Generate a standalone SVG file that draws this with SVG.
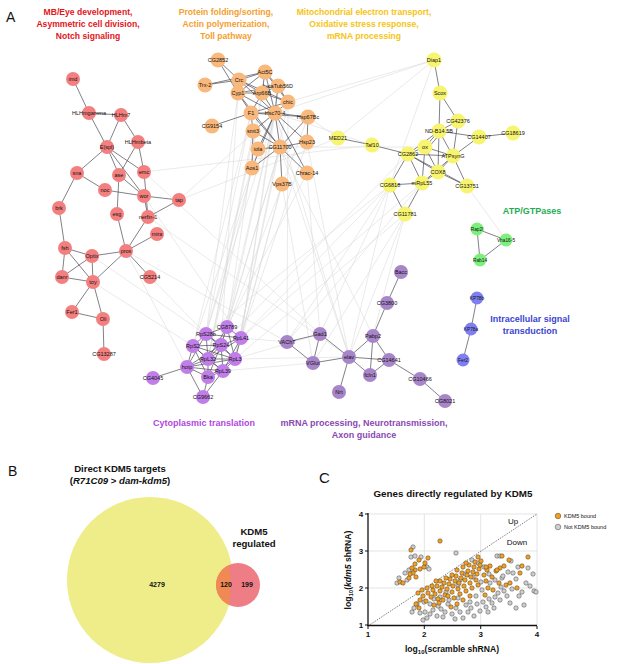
<svg xmlns="http://www.w3.org/2000/svg" width="617" height="664" viewBox="0 0 617 664">
<style>
text{font-family:"Liberation Sans",Arial,sans-serif;fill:#111}
.nl{font-size:5.5px;text-anchor:middle;fill:#111}
.r circle{fill:#f47f7f}
.o circle{fill:#f9b87c}
.y circle{fill:#f7f46f}
.g circle{fill:#7cef7c}
.b circle{fill:#7f7ff2}
.pl circle{fill:#c17ee9}
.pr circle{fill:#a885c9}
.e line{stroke:#4a4a55;stroke-width:0.7}
.bg line{stroke:#d9d9d9;stroke-width:0.55}
.ttl{font-weight:bold;font-size:8.6px;text-anchor:middle}
.cl{font-weight:bold;font-size:9px;text-anchor:middle}
.pan{font-size:14px}
.po{fill:#f2a126;stroke:#4a3a20;stroke-width:0.5}
.pg{fill:#cfcfcf;stroke:#444;stroke-width:0.5}
.tk{font-weight:bold;font-size:8px;text-anchor:middle}
.grid line{stroke:#dddddd;stroke-width:0.8}
</style>

<text class="pan" x="6" y="22">A</text>
<g id="titles">
<text class="ttl" style="fill:#e3141b" x="88" y="15">MB/Eye development,</text>
<text class="ttl" style="fill:#e3141b" x="88" y="27">Asymmetric cell division,</text>
<text class="ttl" style="fill:#e3141b" x="88" y="39">Notch signaling</text>
<text class="ttl" style="fill:#f5a02e" x="226" y="15">Protein folding/sorting,</text>
<text class="ttl" style="fill:#f5a02e" x="226" y="27">Actin polymerization,</text>
<text class="ttl" style="fill:#f5a02e" x="226" y="39">Toll pathway</text>
<text class="ttl" style="fill:#f6c416" x="364" y="15">Mitochondrial electron transport,</text>
<text class="ttl" style="fill:#f6c416" x="364" y="27">Oxidative stress response,</text>
<text class="ttl" style="fill:#f6c416" x="364" y="39">mRNA processing</text>
<text class="cl" style="fill:#1fae55" x="532" y="214">ATP/GTPases</text>
<text class="cl" style="fill:#3b44d0" x="530" y="322">Intracellular signal</text>
<text class="cl" style="fill:#3b44d0" x="530" y="334">transduction</text>
<text class="cl" style="fill:#b048e0" x="204" y="426">Cytoplasmic translation</text>
<text class="cl" style="fill:#8a48b2" x="364" y="426">mRNA processing, Neurotransmission,</text>
<text class="cl" style="fill:#8a48b2" x="364" y="438">Axon guidance</text>
</g>

<g id="connectors">
<g class="bg">
<line x1="275" y1="113" x2="206" y2="334"/><line x1="275" y1="113" x2="227" y2="327"/><line x1="275" y1="113" x2="241" y2="338"/><line x1="275" y1="113" x2="221" y2="345"/>
<line x1="251" y1="113" x2="193" y2="346"/><line x1="251" y1="113" x2="206" y2="334"/><line x1="253" y1="131" x2="208" y2="359"/><line x1="280" y1="147" x2="235" y2="359"/>
<line x1="280" y1="147" x2="221" y2="345"/><line x1="280" y1="147" x2="227" y2="327"/><line x1="258" y1="149" x2="206" y2="334"/><line x1="252" y1="168" x2="193" y2="346"/>
<line x1="252" y1="168" x2="208" y2="359"/><line x1="282" y1="184" x2="241" y2="338"/><line x1="282" y1="184" x2="235" y2="359"/><line x1="238" y1="93" x2="206" y2="334"/>
<line x1="239" y1="80" x2="221" y2="345"/><line x1="307" y1="142" x2="241" y2="338"/><line x1="307" y1="173" x2="227" y2="327"/><line x1="262" y1="93" x2="208" y2="359"/>
<line x1="288" y1="102" x2="235" y2="359"/><line x1="308" y1="117" x2="221" y2="345"/><line x1="265" y1="72" x2="227" y2="327"/><line x1="278" y1="86" x2="241" y2="338"/>
<line x1="275" y1="113" x2="349" y2="357"/><line x1="280" y1="147" x2="373" y2="336"/><line x1="280" y1="147" x2="349" y2="357"/><line x1="307" y1="173" x2="320" y2="334"/>
<line x1="307" y1="142" x2="349" y2="357"/><line x1="282" y1="184" x2="313" y2="363"/><line x1="288" y1="102" x2="287" y2="342"/>
<line x1="390" y1="185" x2="349" y2="357"/><line x1="390" y1="185" x2="320" y2="334"/><line x1="405" y1="214" x2="349" y2="357"/><line x1="405" y1="214" x2="313" y2="363"/>
<line x1="405" y1="214" x2="373" y2="336"/><line x1="422" y1="183" x2="287" y2="342"/><line x1="390" y1="185" x2="241" y2="338"/><line x1="405" y1="214" x2="235" y2="359"/>
<line x1="408" y1="154" x2="221" y2="345"/><line x1="390" y1="185" x2="206" y2="334"/><line x1="422" y1="183" x2="241" y2="338"/><line x1="390" y1="185" x2="287" y2="342"/>
<line x1="434" y1="60" x2="275" y2="113"/><line x1="434" y1="60" x2="288" y2="102"/><line x1="434" y1="60" x2="338" y2="138"/><line x1="434" y1="60" x2="390" y2="185"/>
<line x1="372" y1="145" x2="275" y2="113"/><line x1="338" y1="138" x2="308" y2="117"/><line x1="425" y1="147" x2="280" y2="147"/>
<line x1="144" y1="172" x2="372" y2="145"/><line x1="179" y1="200" x2="275" y2="113"/><line x1="144" y1="196" x2="241" y2="338"/><line x1="126" y1="251" x2="187" y2="367"/>
<line x1="93" y1="282" x2="193" y2="346"/><line x1="150" y1="277" x2="206" y2="334"/><line x1="148" y1="217" x2="349" y2="357"/><line x1="179" y1="200" x2="338" y2="138"/>
<line x1="126" y1="251" x2="287" y2="342"/><line x1="144" y1="172" x2="320" y2="334"/><line x1="92" y1="256" x2="221" y2="345"/>
<line x1="467" y1="186" x2="506" y2="240"/>
<line x1="287" y1="342" x2="241" y2="338"/><line x1="320" y1="334" x2="235" y2="359"/><line x1="313" y1="363" x2="223" y2="371"/><line x1="349" y1="357" x2="235" y2="359"/>
</g>
<g class="e">
<line x1="73" y1="79" x2="89" y2="113"/><line x1="89" y1="113" x2="121" y2="115"/><line x1="89" y1="113" x2="107" y2="147"/><line x1="121" y1="115" x2="107" y2="147"/>
<line x1="121" y1="115" x2="138" y2="142"/><line x1="107" y1="147" x2="77" y2="173"/><line x1="107" y1="147" x2="119" y2="175"/><line x1="107" y1="147" x2="144" y2="172"/>
<line x1="107" y1="147" x2="144" y2="196"/><line x1="138" y1="142" x2="119" y2="175"/><line x1="138" y1="142" x2="144" y2="172"/><line x1="77" y1="173" x2="105" y2="190"/>
<line x1="77" y1="173" x2="59" y2="208"/><line x1="119" y1="175" x2="144" y2="196"/><line x1="119" y1="175" x2="117" y2="214"/><line x1="144" y1="172" x2="148" y2="217"/>
<line x1="105" y1="190" x2="144" y2="196"/><line x1="144" y1="196" x2="179" y2="200"/><line x1="144" y1="196" x2="148" y2="217"/><line x1="179" y1="200" x2="148" y2="217"/>
<line x1="59" y1="208" x2="65" y2="248"/><line x1="117" y1="214" x2="126" y2="251"/><line x1="148" y1="217" x2="126" y2="251"/><line x1="157" y1="234" x2="126" y2="251"/>
<line x1="65" y1="248" x2="92" y2="256"/><line x1="65" y1="248" x2="62" y2="277"/><line x1="65" y1="248" x2="93" y2="282"/><line x1="92" y1="256" x2="62" y2="277"/>
<line x1="92" y1="256" x2="93" y2="282"/><line x1="92" y1="256" x2="126" y2="251"/><line x1="62" y1="277" x2="93" y2="282"/><line x1="93" y1="282" x2="126" y2="251"/>
<line x1="126" y1="251" x2="150" y2="277"/><line x1="93" y1="282" x2="72" y2="312"/><line x1="93" y1="282" x2="103" y2="319"/><line x1="72" y1="312" x2="103" y2="319"/>
<line x1="103" y1="319" x2="104" y2="354"/>
<line x1="218" y1="60" x2="239" y2="80"/><line x1="218" y1="60" x2="238" y2="93"/><line x1="205" y1="85" x2="239" y2="80"/><line x1="205" y1="85" x2="265" y2="72"/>
<line x1="239" y1="80" x2="265" y2="72"/><line x1="239" y1="80" x2="238" y2="93"/><line x1="239" y1="80" x2="262" y2="93"/><line x1="239" y1="80" x2="275" y2="113"/>
<line x1="239" y1="80" x2="288" y2="102"/><line x1="265" y1="72" x2="278" y2="86"/><line x1="265" y1="72" x2="262" y2="93"/><line x1="265" y1="72" x2="238" y2="93"/>
<line x1="265" y1="72" x2="288" y2="102"/><line x1="265" y1="72" x2="275" y2="113"/><line x1="238" y1="93" x2="262" y2="93"/><line x1="238" y1="93" x2="278" y2="86"/>
<line x1="238" y1="93" x2="251" y2="113"/><line x1="238" y1="93" x2="275" y2="113"/><line x1="238" y1="93" x2="280" y2="147"/><line x1="262" y1="93" x2="278" y2="86"/>
<line x1="262" y1="93" x2="288" y2="102"/><line x1="262" y1="93" x2="251" y2="113"/><line x1="262" y1="93" x2="275" y2="113"/><line x1="278" y1="86" x2="288" y2="102"/>
<line x1="278" y1="86" x2="275" y2="113"/><line x1="251" y1="113" x2="275" y2="113"/><line x1="251" y1="113" x2="212" y2="126"/><line x1="251" y1="113" x2="253" y2="131"/>
<line x1="251" y1="113" x2="280" y2="147"/><line x1="251" y1="113" x2="308" y2="117"/><line x1="275" y1="113" x2="308" y2="117"/><line x1="275" y1="113" x2="307" y2="142"/>
<line x1="275" y1="113" x2="280" y2="147"/><line x1="275" y1="113" x2="253" y2="131"/><line x1="275" y1="113" x2="258" y2="149"/><line x1="275" y1="113" x2="252" y2="168"/>
<line x1="275" y1="113" x2="307" y2="173"/><line x1="308" y1="117" x2="307" y2="142"/><line x1="308" y1="117" x2="280" y2="147"/><line x1="253" y1="131" x2="252" y2="168"/>
<line x1="253" y1="131" x2="280" y2="147"/><line x1="280" y1="147" x2="258" y2="149"/><line x1="280" y1="147" x2="307" y2="142"/><line x1="280" y1="147" x2="252" y2="168"/>
<line x1="280" y1="147" x2="307" y2="173"/><line x1="280" y1="147" x2="282" y2="184"/><line x1="288" y1="102" x2="275" y2="113"/><line x1="288" y1="102" x2="251" y2="113"/>
<line x1="434" y1="60" x2="440" y2="93"/><line x1="440" y1="93" x2="439" y2="131"/><line x1="440" y1="93" x2="458" y2="121"/><line x1="458" y1="121" x2="439" y2="131"/>
<line x1="458" y1="121" x2="453" y2="156"/><line x1="439" y1="131" x2="479" y2="137"/><line x1="439" y1="131" x2="425" y2="147"/><line x1="441" y1="133" x2="427" y2="149"/>
<line x1="439" y1="131" x2="453" y2="156"/><line x1="439" y1="131" x2="408" y2="154"/><line x1="439" y1="131" x2="438" y2="172"/><line x1="479" y1="137" x2="513" y2="133"/>
<line x1="479" y1="137" x2="453" y2="156"/><line x1="338" y1="138" x2="372" y2="145"/><line x1="372" y1="145" x2="408" y2="154"/><line x1="425" y1="147" x2="408" y2="154"/>
<line x1="425" y1="147" x2="453" y2="156"/><line x1="425" y1="147" x2="438" y2="172"/><line x1="425" y1="147" x2="422" y2="183"/><line x1="408" y1="154" x2="453" y2="156"/>
<line x1="408" y1="154" x2="438" y2="172"/><line x1="408" y1="154" x2="390" y2="185"/><line x1="408" y1="154" x2="422" y2="183"/><line x1="408" y1="154" x2="467" y2="186"/>
<line x1="453" y1="156" x2="438" y2="172"/><line x1="453" y1="156" x2="467" y2="186"/><line x1="453" y1="156" x2="422" y2="183"/><line x1="438" y1="172" x2="422" y2="183"/>
<line x1="438" y1="172" x2="467" y2="186"/><line x1="390" y1="185" x2="422" y2="183"/><line x1="390" y1="185" x2="405" y2="214"/><line x1="422" y1="183" x2="405" y2="214"/>
<line x1="477" y1="229" x2="506" y2="240"/><line x1="477" y1="229" x2="480" y2="260"/><line x1="480" y1="260" x2="506" y2="240"/>
<line x1="477" y1="298" x2="471" y2="329"/><line x1="471" y1="329" x2="463" y2="360"/>
<line x1="401" y1="272" x2="387" y2="303"/><line x1="387" y1="303" x2="373" y2="336"/><line x1="373" y1="336" x2="349" y2="357"/><line x1="373" y1="336" x2="370" y2="375"/>
<line x1="373" y1="336" x2="389" y2="360"/><line x1="320" y1="334" x2="287" y2="342"/><line x1="320" y1="334" x2="313" y2="363"/><line x1="320" y1="334" x2="349" y2="357"/>
<line x1="287" y1="342" x2="313" y2="363"/><line x1="313" y1="363" x2="349" y2="357"/><line x1="349" y1="357" x2="389" y2="360"/><line x1="349" y1="357" x2="370" y2="375"/>
<line x1="349" y1="357" x2="339" y2="392"/><line x1="370" y1="375" x2="389" y2="360"/><line x1="389" y1="360" x2="420" y2="379"/><line x1="420" y1="379" x2="445" y2="401"/>
<line x1="227" y1="327" x2="206" y2="334"/><line x1="227" y1="327" x2="241" y2="338"/><line x1="227" y1="327" x2="221" y2="345"/><line x1="227" y1="327" x2="208" y2="359"/>
<line x1="227" y1="327" x2="235" y2="359"/><line x1="206" y1="334" x2="241" y2="338"/><line x1="206" y1="334" x2="193" y2="346"/><line x1="206" y1="334" x2="221" y2="345"/>
<line x1="206" y1="334" x2="208" y2="359"/><line x1="206" y1="334" x2="235" y2="359"/><line x1="206" y1="334" x2="187" y2="367"/><line x1="241" y1="338" x2="221" y2="345"/>
<line x1="241" y1="338" x2="208" y2="359"/><line x1="241" y1="338" x2="235" y2="359"/><line x1="241" y1="338" x2="223" y2="371"/><line x1="193" y1="346" x2="221" y2="345"/>
<line x1="193" y1="346" x2="208" y2="359"/><line x1="193" y1="346" x2="235" y2="359"/><line x1="193" y1="346" x2="187" y2="367"/><line x1="193" y1="346" x2="223" y2="371"/>
<line x1="193" y1="346" x2="208" y2="377"/><line x1="221" y1="345" x2="208" y2="359"/><line x1="221" y1="345" x2="235" y2="359"/><line x1="221" y1="345" x2="187" y2="367"/>
<line x1="221" y1="345" x2="223" y2="371"/><line x1="221" y1="345" x2="208" y2="377"/><line x1="208" y1="359" x2="235" y2="359"/><line x1="208" y1="359" x2="187" y2="367"/>
<line x1="208" y1="359" x2="223" y2="371"/><line x1="208" y1="359" x2="208" y2="377"/><line x1="235" y1="359" x2="187" y2="367"/><line x1="235" y1="359" x2="223" y2="371"/>
<line x1="235" y1="359" x2="208" y2="377"/><line x1="187" y1="367" x2="223" y2="371"/><line x1="187" y1="367" x2="208" y2="377"/><line x1="223" y1="371" x2="208" y2="377"/>
<line x1="187" y1="367" x2="153" y2="378"/><line x1="187" y1="367" x2="203" y2="397"/><line x1="208" y1="377" x2="203" y2="397"/><line x1="223" y1="371" x2="203" y2="397"/>
</g>
</g>

<g id="nodes-red" class="r">
<g id="n-imd"><circle cx="73" cy="79" r="7"/><text class="nl" x="73" y="81">imd</text></g>
<g id="n-HLHmgamma"><circle cx="89" cy="113" r="7"/><text class="nl" x="89" y="115">HLHmgamma</text></g>
<g id="n-HLHm7"><circle cx="121" cy="115" r="7"/><text class="nl" x="121" y="117">HLHm7</text></g>
<g id="n-HLHmbeta"><circle cx="138" cy="142" r="7"/><text class="nl" x="138" y="144">HLHmbeta</text></g>
<g id="n-Espl"><circle cx="107" cy="147" r="7"/><text class="nl" x="107" y="149">E(spl)</text></g>
<g id="n-sna"><circle cx="77" cy="173" r="7"/><text class="nl" x="77" y="175">sna</text></g>
<g id="n-ase"><circle cx="119" cy="175" r="7"/><text class="nl" x="119" y="177">ase</text></g>
<g id="n-emc"><circle cx="144" cy="172" r="7"/><text class="nl" x="144" y="174">emc</text></g>
<g id="n-noc"><circle cx="105" cy="190" r="7"/><text class="nl" x="105" y="192">noc</text></g>
<g id="n-wor"><circle cx="144" cy="196" r="7"/><text class="nl" x="144" y="198">wor</text></g>
<g id="n-tap"><circle cx="179" cy="200" r="7"/><text class="nl" x="179" y="202">tap</text></g>
<g id="n-brk"><circle cx="59" cy="208" r="7"/><text class="nl" x="59" y="210">brk</text></g>
<g id="n-esg"><circle cx="117" cy="214" r="7"/><text class="nl" x="117" y="216">esg</text></g>
<g id="n-nerfin-1"><circle cx="148" cy="217" r="7"/><text class="nl" x="148" y="219">nerfin-1</text></g>
<g id="n-mira"><circle cx="157" cy="234" r="7"/><text class="nl" x="157" y="236">mira</text></g>
<g id="n-pros"><circle cx="126" cy="251" r="7"/><text class="nl" x="126" y="253">pros</text></g>
<g id="n-fsh"><circle cx="65" cy="248" r="7"/><text class="nl" x="65" y="250">fsh</text></g>
<g id="n-Optix"><circle cx="92" cy="256" r="7"/><text class="nl" x="92" y="258">Optix</text></g>
<g id="n-danr"><circle cx="62" cy="277" r="7"/><text class="nl" x="62" y="279">danr</text></g>
<g id="n-toy"><circle cx="93" cy="282" r="7"/><text class="nl" x="93" y="284">toy</text></g>
<g id="n-CG5214"><circle cx="150" cy="277" r="7"/><text class="nl" x="150" y="279">CG5214</text></g>
<g id="n-Fer1"><circle cx="72" cy="312" r="7"/><text class="nl" x="72" y="314">Fer1</text></g>
<g id="n-Oli"><circle cx="103" cy="319" r="7"/><text class="nl" x="103" y="321">Oli</text></g>
<g id="n-CG13287"><circle cx="104" cy="354" r="7"/><text class="nl" x="104" y="356">CG13287</text></g>
</g>

<g id="nodes-orange" class="o">
<g id="n-CG2852"><circle cx="218" cy="60" r="7.5"/><text class="nl" x="218" y="62">CG2852</text></g>
<g id="n-Act5C"><circle cx="265" cy="72" r="7.5"/><text class="nl" x="265" y="74">Act5C</text></g>
<g id="n-Crc"><circle cx="239" cy="80" r="7.5"/><text class="nl" x="239" y="82">Crc</text></g>
<g id="n-Trx-2"><circle cx="205" cy="85" r="7.5"/><text class="nl" x="205" y="87">Trx-2</text></g>
<g id="n-betaTub56D"><circle cx="278" cy="86" r="7.5"/><text class="nl" x="278" y="88">betaTub56D</text></g>
<g id="n-Cyp1"><circle cx="238" cy="93" r="7.5"/><text class="nl" x="238" y="95">Cyp1</text></g>
<g id="n-Arp66B"><circle cx="262" cy="93" r="7.5"/><text class="nl" x="262" y="95">Arp66B</text></g>
<g id="n-chic"><circle cx="288" cy="102" r="7.5"/><text class="nl" x="288" y="104">chic</text></g>
<g id="n-F1"><circle cx="251" cy="113" r="7.5"/><text class="nl" x="251" y="115">F1</text></g>
<g id="n-Hsc70-4"><circle cx="275" cy="113" r="7.5"/><text class="nl" x="275" y="115">Hsc70-4</text></g>
<g id="n-Hsp67Bc"><circle cx="308" cy="117" r="7.5"/><text class="nl" x="308" y="119">Hsp67Bc</text></g>
<g id="n-CG9154"><circle cx="212" cy="126" r="7.5"/><text class="nl" x="212" y="128">CG9154</text></g>
<g id="n-smt3"><circle cx="253" cy="131" r="7.5"/><text class="nl" x="253" y="133">smt3</text></g>
<g id="n-Hsp23"><circle cx="307" cy="142" r="7.5"/><text class="nl" x="307" y="144">Hsp23</text></g>
<g id="n-iola"><circle cx="258" cy="149" r="7.5"/><text class="nl" x="258" y="151">iola</text></g>
<g id="n-CG11700"><circle cx="280" cy="147" r="7.5"/><text class="nl" x="280" y="149">CG11700</text></g>
<g id="n-Aos1"><circle cx="252" cy="168" r="7.5"/><text class="nl" x="252" y="170">Aos1</text></g>
<g id="n-Chrac-14"><circle cx="307" cy="173" r="7.5"/><text class="nl" x="307" y="175">Chrac-14</text></g>
<g id="n-Vps37B"><circle cx="282" cy="184" r="7.5"/><text class="nl" x="282" y="186">Vps37B</text></g>
</g>

<g id="nodes-yellow" class="y">
<g id="n-Diap1"><circle cx="434" cy="60" r="7.5"/><text class="nl" x="434" y="62">Diap1</text></g>
<g id="n-Scox"><circle cx="440" cy="93" r="7.5"/><text class="nl" x="440" y="95">Scox</text></g>
<g id="n-CG42376"><circle cx="458" cy="121" r="7.5"/><text class="nl" x="458" y="123">CG42376</text></g>
<g id="n-ND-B14.5B"><circle cx="439" cy="131" r="7.5"/><text class="nl" x="439" y="133">ND-B14.5B</text></g>
<g id="n-CG14407"><circle cx="479" cy="137" r="7.5"/><text class="nl" x="479" y="139">CG14407</text></g>
<g id="n-CG18619"><circle cx="513" cy="133" r="7.5"/><text class="nl" x="513" y="135">CG18619</text></g>
<g id="n-MED21"><circle cx="338" cy="138" r="7.5"/><text class="nl" x="338" y="140">MED21</text></g>
<g id="n-Taf10"><circle cx="372" cy="145" r="7.5"/><text class="nl" x="372" y="147">Taf10</text></g>
<g id="n-ox"><circle cx="425" cy="147" r="7.5"/><text class="nl" x="425" y="149">ox</text></g>
<g id="n-CG2862"><circle cx="408" cy="154" r="7.5"/><text class="nl" x="408" y="156">CG2862</text></g>
<g id="n-ATPsynG"><circle cx="453" cy="156" r="7.5"/><text class="nl" x="453" y="158">ATPsynG</text></g>
<g id="n-COX8"><circle cx="438" cy="172" r="7.5"/><text class="nl" x="438" y="174">COX8</text></g>
<g id="n-CG6818"><circle cx="390" cy="185" r="7.5"/><text class="nl" x="390" y="187">CG6818</text></g>
<g id="n-mRpL55"><circle cx="422" cy="183" r="7.5"/><text class="nl" x="422" y="185">mRpL55</text></g>
<g id="n-CG13751"><circle cx="467" cy="186" r="7.5"/><text class="nl" x="467" y="188">CG13751</text></g>
<g id="n-CG11781"><circle cx="405" cy="214" r="7.5"/><text class="nl" x="405" y="216">CG11781</text></g>
</g>

<g id="nodes-green" class="g">
<g id="n-Rap2l"><circle cx="477" cy="229" r="6.5"/><text class="nl" x="477" y="231" style="font-size:4.8px">Rap2l</text></g>
<g id="n-Vha16-5"><circle cx="506" cy="240" r="6.5"/><text class="nl" x="506" y="242" style="font-size:4.8px">Vha16-5</text></g>
<g id="n-Rab14"><circle cx="480" cy="260" r="6.5"/><text class="nl" x="480" y="262" style="font-size:4.8px">Rab14</text></g>
</g>

<g id="nodes-blue" class="b">
<g id="n-KP78b"><circle cx="477" cy="298" r="6.5"/><text class="nl" x="477" y="300" style="font-size:4.8px">KP78b</text></g>
<g id="n-KP78a"><circle cx="471" cy="329" r="6.5"/><text class="nl" x="471" y="331" style="font-size:4.8px">KP78a</text></g>
<g id="n-Fer2"><circle cx="463" cy="360" r="6.5"/><text class="nl" x="463" y="362" style="font-size:4.8px">Fer2</text></g>
</g>

<g id="nodes-purple-right" class="pr">
<g id="n-Bacc"><circle cx="401" cy="272" r="7"/><text class="nl" x="401" y="274">Bacc</text></g>
<g id="n-CG3800"><circle cx="387" cy="303" r="7"/><text class="nl" x="387" y="305">CG3800</text></g>
<g id="n-Pabp2"><circle cx="373" cy="336" r="7"/><text class="nl" x="373" y="338">Pabp2</text></g>
<g id="n-Gad1"><circle cx="320" cy="334" r="7"/><text class="nl" x="320" y="336">Gad1</text></g>
<g id="n-VAChT"><circle cx="287" cy="342" r="7"/><text class="nl" x="287" y="344">VAChT</text></g>
<g id="n-VGlut"><circle cx="313" cy="363" r="7"/><text class="nl" x="313" y="365">VGlut</text></g>
<g id="n-elav"><circle cx="349" cy="357" r="7"/><text class="nl" x="349" y="359">elav</text></g>
<g id="n-CG14641"><circle cx="389" cy="360" r="7"/><text class="nl" x="389" y="362">CG14641</text></g>
<g id="n-fcln1"><circle cx="370" cy="375" r="7"/><text class="nl" x="370" y="377">fcln1</text></g>
<g id="n-Nrt"><circle cx="339" cy="392" r="7"/><text class="nl" x="339" y="394">Nrt</text></g>
<g id="n-CG10466"><circle cx="420" cy="379" r="7"/><text class="nl" x="420" y="381">CG10466</text></g>
<g id="n-CG8021"><circle cx="445" cy="401" r="7"/><text class="nl" x="445" y="403">CG8021</text></g>
</g>

<g id="nodes-purple-left" class="pl">
<g id="n-CG8789"><circle cx="227" cy="327" r="7"/><text class="nl" x="227" y="329">CG8789</text></g>
<g id="n-RpS28b"><circle cx="206" cy="334" r="7"/><text class="nl" x="206" y="336">RpS28b</text></g>
<g id="n-RpL41"><circle cx="241" cy="338" r="7"/><text class="nl" x="241" y="340">RpL41</text></g>
<g id="n-RpS2"><circle cx="193" cy="346" r="7"/><text class="nl" x="193" y="348">RpS2</text></g>
<g id="n-RpS24"><circle cx="221" cy="345" r="7"/><text class="nl" x="221" y="347">RpS24</text></g>
<g id="n-RpL32"><circle cx="208" cy="359" r="7"/><text class="nl" x="208" y="361">RpL32</text></g>
<g id="n-RpL3"><circle cx="235" cy="359" r="7"/><text class="nl" x="235" y="361">RpL3</text></g>
<g id="n-hoip"><circle cx="187" cy="367" r="7"/><text class="nl" x="187" y="369">hoip</text></g>
<g id="n-RpL39"><circle cx="223" cy="371" r="7"/><text class="nl" x="223" y="373">RpL39</text></g>
<g id="n-Bka"><circle cx="208" cy="377" r="7"/><text class="nl" x="208" y="379">Bka</text></g>
<g id="n-CG4045"><circle cx="153" cy="378" r="7"/><text class="nl" x="153" y="380">CG4045</text></g>
<g id="n-CG9662"><circle cx="203" cy="397" r="7"/><text class="nl" x="203" y="399">CG9662</text></g>
</g>

<g id="venn">
<text class="pan" x="8" y="476">B</text>
<text x="120" y="472" style="font-weight:bold;font-size:9.6px;text-anchor:middle">Direct KDM5 targets</text>
<text x="120" y="484" style="font-weight:bold;font-size:9.6px;text-anchor:middle">(<tspan font-style="italic">R71C09</tspan> &gt; <tspan font-style="italic">dam-kdm5</tspan>)</text>
<text x="254" y="535" style="font-weight:bold;font-size:9.6px;text-anchor:middle">KDM5</text>
<text x="254" y="547" style="font-weight:bold;font-size:9.6px;text-anchor:middle">regulated</text>
<circle cx="150" cy="580" r="83" fill="#efed8a"/>
<circle cx="238" cy="585" r="22" fill="#ef7d86"/>
<path d="M 228.3 565.3 A 22 22 0 0 0 228.3 604.7 A 83 83 0 0 0 228.3 565.3 Z" fill="#f08a55"/>
<text x="157" y="587" style="font-weight:bold;font-size:7px;text-anchor:middle">4279</text>
<text x="226" y="587" style="font-weight:bold;font-size:7px;text-anchor:middle">120</text>
<text x="247" y="587" style="font-weight:bold;font-size:7px;text-anchor:middle">199</text>
</g>

<g id="scatter">
<text class="pan" x="319" y="483" style="font-size:15px">C</text>
<text x="453" y="497" style="font-weight:bold;font-size:9.8px;text-anchor:middle">Genes directly regulated by KDM5</text>
<g class="grid">
<line x1="424.3" y1="514" x2="424.3" y2="625"/><line x1="480.7" y1="514" x2="480.7" y2="625"/><line x1="537" y1="514" x2="537" y2="625"/>
<line x1="368" y1="588" x2="537" y2="588"/><line x1="368" y1="551" x2="537" y2="551"/><line x1="368" y1="514" x2="537" y2="514"/>
</g>
<line x1="368" y1="626" x2="537" y2="514" stroke="#222" stroke-width="0.7" stroke-dasharray="1,1.2"/>
<g>
<circle class="pg" cx="423" cy="620" r="2.2"/><circle class="pg" cx="412" cy="612" r="2.2"/><circle class="pg" cx="425" cy="612" r="2.2"/><circle class="pg" cx="430" cy="614" r="2.2"/>
<circle class="pg" cx="433" cy="610" r="2.2"/><circle class="pg" cx="437" cy="616" r="2.2"/><circle class="pg" cx="441" cy="609" r="2.2"/><circle class="pg" cx="445" cy="612" r="2.2"/>
<circle class="pg" cx="448" cy="604" r="2.2"/><circle class="pg" cx="452" cy="614" r="2.2"/><circle class="pg" cx="456" cy="608" r="2.2"/><circle class="pg" cx="460" cy="612" r="2.2"/>
<circle class="pg" cx="463" cy="618" r="2.2"/><circle class="pg" cx="466" cy="605" r="2.2"/><circle class="pg" cx="468" cy="612" r="2.2"/><circle class="pg" cx="471" cy="608" r="2.2"/>
<circle class="pg" cx="474" cy="616" r="2.2"/><circle class="pg" cx="477" cy="604" r="2.2"/><circle class="pg" cx="480" cy="611" r="2.2"/><circle class="pg" cx="483" cy="602" r="2.2"/>
<circle class="pg" cx="486" cy="607" r="2.2"/><circle class="pg" cx="489" cy="599" r="2.2"/><circle class="pg" cx="492" cy="603" r="2.2"/><circle class="pg" cx="495" cy="597" r="2.2"/>
<circle class="pg" cx="498" cy="593" r="2.2"/><circle class="pg" cx="501" cy="587" r="2.2"/><circle class="pg" cx="504" cy="591" r="2.2"/><circle class="pg" cx="507" cy="596" r="2.2"/>
<circle class="pg" cx="510" cy="603" r="2.2"/><circle class="pg" cx="512" cy="589" r="2.2"/><circle class="pg" cx="516" cy="579" r="2.2"/><circle class="pg" cx="519" cy="596" r="2.2"/>
<circle class="pg" cx="522" cy="592" r="2.2"/><circle class="pg" cx="526" cy="583" r="2.2"/><circle class="pg" cx="530" cy="586" r="2.2"/><circle class="pg" cx="534" cy="591" r="2.2"/>
<circle class="pg" cx="513" cy="573" r="2.2"/><circle class="pg" cx="497" cy="556" r="2.2"/><circle class="pg" cx="500" cy="556" r="2.2"/><circle class="pg" cx="508" cy="572" r="2.2"/>
<circle class="pg" cx="502" cy="578" r="2.2"/><circle class="pg" cx="490" cy="583" r="2.2"/><circle class="pg" cx="482" cy="590" r="2.2"/><circle class="pg" cx="476" cy="596" r="2.2"/>
<circle class="pg" cx="470" cy="602" r="2.2"/><circle class="pg" cx="458" cy="598" r="2.2"/><circle class="pg" cx="449" cy="600" r="2.2"/><circle class="pg" cx="438" cy="606" r="2.2"/>
<circle class="pg" cx="430" cy="604" r="2.2"/><circle class="pg" cx="424" cy="602" r="2.2"/><circle class="pg" cx="420" cy="613" r="2.2"/><circle class="pg" cx="427" cy="618" r="2.2"/>
<circle class="pg" cx="455" cy="619" r="2.2"/><circle class="pg" cx="443" cy="617" r="2.2"/><circle class="pg" cx="516" cy="608" r="2.2"/><circle class="pg" cx="524" cy="605" r="2.2"/>
<circle class="pg" cx="488" cy="612" r="2.2"/><circle class="pg" cx="494" cy="608" r="2.2"/><circle class="pg" cx="500" cy="600" r="2.2"/><circle class="pg" cx="484" cy="567" r="2.2"/>
<circle class="pg" cx="478" cy="563" r="2.2"/><circle class="pg" cx="472" cy="560" r="2.2"/><circle class="pg" cx="465" cy="574" r="2.2"/><circle class="pg" cx="458" cy="585" r="2.2"/>
<circle class="pg" cx="446" cy="592" r="2.2"/><circle class="pg" cx="440" cy="597" r="2.2"/><circle class="pg" cx="434" cy="599" r="2.2"/><circle class="pg" cx="460" cy="580" r="2.2"/>
<circle class="pg" cx="473" cy="577" r="2.2"/><circle class="pg" cx="481" cy="582" r="2.2"/><circle class="pg" cx="489" cy="574" r="2.2"/><circle class="pg" cx="495" cy="580" r="2.2"/>
<circle class="pg" cx="503" cy="576" r="2.2"/><circle class="pg" cx="511" cy="561" r="2.2"/><circle class="pg" cx="518" cy="567" r="2.2"/><circle class="pg" cx="528" cy="568" r="2.2"/>
<circle class="pg" cx="533" cy="574" r="2.2"/><circle class="pg" cx="536" cy="592" r="2.2"/><circle class="pg" cx="417" cy="604" r="2.2"/><circle class="pg" cx="414" cy="608" r="2.2"/>
<circle class="pg" cx="397" cy="583" r="2.2"/><circle class="pg" cx="399" cy="578" r="2.2"/><circle class="pg" cx="405" cy="573" r="2.2"/><circle class="pg" cx="411" cy="557" r="2.2"/>
<circle class="pg" cx="415" cy="556" r="2.2"/><circle class="pg" cx="413" cy="547" r="2.2"/><circle class="pg" cx="421" cy="557" r="2.2"/><circle class="pg" cx="427" cy="567" r="2.2"/>
<circle class="pg" cx="429" cy="569" r="2.2"/><circle class="pg" cx="456" cy="553" r="2.2"/><circle class="pg" cx="409" cy="570" r="2.2"/><circle class="pg" cx="407" cy="580" r="2.2"/>
</g>
<g>
<circle class="po" cx="411" cy="550" r="2.2"/><circle class="po" cx="428" cy="558" r="2.2"/><circle class="po" cx="419" cy="560" r="2.2"/><circle class="po" cx="420" cy="569" r="2.2"/>
<circle class="po" cx="415" cy="570" r="2.2"/><circle class="po" cx="413" cy="573" r="2.2"/><circle class="po" cx="409" cy="578" r="2.2"/><circle class="po" cx="400" cy="582" r="2.2"/>
<circle class="po" cx="403" cy="583" r="2.2"/><circle class="po" cx="416" cy="577" r="2.2"/><circle class="po" cx="412" cy="568" r="2.2"/><circle class="po" cx="424" cy="567" r="2.2"/>
<circle class="po" cx="440" cy="541" r="2.2"/><circle class="po" cx="425" cy="563" r="2.2"/><circle class="po" cx="415" cy="564" r="2.2"/><circle class="po" cx="410" cy="574" r="2.2"/>
<circle class="po" cx="416" cy="604" r="2.2"/><circle class="po" cx="420" cy="600" r="2.2"/><circle class="po" cx="423" cy="596" r="2.2"/><circle class="po" cx="426" cy="601" r="2.2"/>
<circle class="po" cx="428" cy="593" r="2.2"/><circle class="po" cx="431" cy="597" r="2.2"/><circle class="po" cx="433" cy="590" r="2.2"/><circle class="po" cx="435" cy="594" r="2.2"/>
<circle class="po" cx="437" cy="586" r="2.2"/><circle class="po" cx="438" cy="599" r="2.2"/><circle class="po" cx="440" cy="591" r="2.2"/><circle class="po" cx="442" cy="587" r="2.2"/>
<circle class="po" cx="444" cy="583" r="2.2"/><circle class="po" cx="445" cy="595" r="2.2"/><circle class="po" cx="447" cy="589" r="2.2"/><circle class="po" cx="449" cy="584" r="2.2"/>
<circle class="po" cx="450" cy="579" r="2.2"/><circle class="po" cx="452" cy="592" r="2.2"/><circle class="po" cx="453" cy="586" r="2.2"/><circle class="po" cx="455" cy="581" r="2.2"/>
<circle class="po" cx="456" cy="576" r="2.2"/><circle class="po" cx="458" cy="589" r="2.2"/><circle class="po" cx="459" cy="583" r="2.2"/><circle class="po" cx="461" cy="578" r="2.2"/>
<circle class="po" cx="462" cy="573" r="2.2"/><circle class="po" cx="464" cy="586" r="2.2"/><circle class="po" cx="465" cy="580" r="2.2"/><circle class="po" cx="467" cy="575" r="2.2"/>
<circle class="po" cx="468" cy="571" r="2.2"/><circle class="po" cx="470" cy="583" r="2.2"/><circle class="po" cx="471" cy="577" r="2.2"/><circle class="po" cx="473" cy="572" r="2.2"/>
<circle class="po" cx="474" cy="567" r="2.2"/><circle class="po" cx="476" cy="580" r="2.2"/><circle class="po" cx="477" cy="574" r="2.2"/><circle class="po" cx="479" cy="569" r="2.2"/>
<circle class="po" cx="480" cy="565" r="2.2"/><circle class="po" cx="443" cy="600" r="2.2"/><circle class="po" cx="448" cy="596" r="2.2"/><circle class="po" cx="454" cy="598" r="2.2"/>
<circle class="po" cx="460" cy="594" r="2.2"/><circle class="po" cx="466" cy="591" r="2.2"/><circle class="po" cx="472" cy="588" r="2.2"/><circle class="po" cx="478" cy="585" r="2.2"/>
<circle class="po" cx="434" cy="605" r="2.2"/><circle class="po" cx="439" cy="603" r="2.2"/><circle class="po" cx="419" cy="608" r="2.2"/><circle class="po" cx="457" cy="570" r="2.2"/>
<circle class="po" cx="463" cy="567" r="2.2"/><circle class="po" cx="469" cy="565" r="2.2"/><circle class="po" cx="475" cy="562" r="2.2"/><circle class="po" cx="481" cy="561" r="2.2"/>
<circle class="po" cx="484" cy="575" r="2.2"/><circle class="po" cx="487" cy="570" r="2.2"/><circle class="po" cx="490" cy="566" r="2.2"/><circle class="po" cx="486" cy="581" r="2.2"/>
<circle class="po" cx="492" cy="577" r="2.2"/><circle class="po" cx="496" cy="571" r="2.2"/><circle class="po" cx="500" cy="568" r="2.2"/><circle class="po" cx="504" cy="566" r="2.2"/>
<circle class="po" cx="506" cy="585" r="2.2"/><circle class="po" cx="510" cy="583" r="2.2"/><circle class="po" cx="520" cy="573" r="2.2"/><circle class="po" cx="499" cy="583" r="2.2"/>
<circle class="po" cx="502" cy="556" r="2.2"/><circle class="po" cx="478" cy="557" r="2.2"/><circle class="po" cx="466" cy="563" r="2.2"/><circle class="po" cx="452" cy="575" r="2.2"/>
<circle class="po" cx="446" cy="578" r="2.2"/><circle class="po" cx="440" cy="581" r="2.2"/><circle class="po" cx="436" cy="581" r="2.2"/><circle class="po" cx="432" cy="586" r="2.2"/>
<circle class="po" cx="427" cy="588" r="2.2"/><circle class="po" cx="422" cy="590" r="2.2"/><circle class="po" cx="418" cy="593" r="2.2"/><circle class="po" cx="463" cy="600" r="2.2"/>
<circle class="po" cx="470" cy="596" r="2.2"/><circle class="po" cx="457" cy="604" r="2.2"/><circle class="po" cx="451" cy="607" r="2.2"/><circle class="po" cx="488" cy="588" r="2.2"/>
<circle class="po" cx="493" cy="590" r="2.2"/><circle class="po" cx="485" cy="595" r="2.2"/><circle class="po" cx="522" cy="566" r="2.2"/><circle class="po" cx="517" cy="588" r="2.2"/>
<circle class="po" cx="509" cy="560" r="2.2"/><circle class="po" cx="497" cy="570" r="2.2"/><circle class="po" cx="486" cy="567" r="2.2"/><circle class="po" cx="528" cy="557" r="2.2"/>
</g>
<line x1="368" y1="513" x2="368" y2="626" stroke="#111" stroke-width="1.3"/>
<line x1="367.4" y1="625.5" x2="537" y2="625.5" stroke="#111" stroke-width="1.3"/>
<g stroke="#111" stroke-width="1">
<line x1="365" y1="514" x2="368" y2="514"/><line x1="365" y1="551" x2="368" y2="551"/><line x1="365" y1="588" x2="368" y2="588"/><line x1="365" y1="625" x2="368" y2="625"/>
<line x1="368" y1="626" x2="368" y2="629"/><line x1="424.3" y1="626" x2="424.3" y2="629"/><line x1="480.7" y1="626" x2="480.7" y2="629"/><line x1="537" y1="626" x2="537" y2="629"/>
</g>
<text class="tk" x="361" y="517">4</text><text class="tk" x="361" y="554">3</text><text class="tk" x="361" y="591">2</text><text class="tk" x="361" y="628">1</text>
<text class="tk" x="368" y="637">1</text><text class="tk" x="424.3" y="637">2</text><text class="tk" x="480.7" y="637">3</text><text class="tk" x="537" y="637">4</text>
<text x="452" y="652" style="font-weight:bold;font-size:8.6px;text-anchor:middle">log<tspan font-size="6" dy="2">10</tspan><tspan dy="-2">(scramble shRNA)</tspan></text>
<text transform="translate(351,570) rotate(-90)" style="font-weight:bold;font-size:8.6px;text-anchor:middle">log<tspan font-size="6" dy="2">10</tspan><tspan dy="-2">(</tspan><tspan font-style="italic">kdm5</tspan> shRNA)</text>
<text x="513" y="524" style="font-size:8px;text-anchor:middle;fill:#111">Up</text>
<text x="517" y="545" style="font-size:8px;text-anchor:middle;fill:#111">Down</text>
<circle class="po" cx="558" cy="516" r="2.8"/>
<text x="564" y="518" style="font-size:5.5px">KDM5 bound</text>
<circle class="pg" cx="558" cy="527" r="2.8"/>
<text x="564" y="529" style="font-size:5.5px">Not KDM5 bound</text>
</g>
</svg>
